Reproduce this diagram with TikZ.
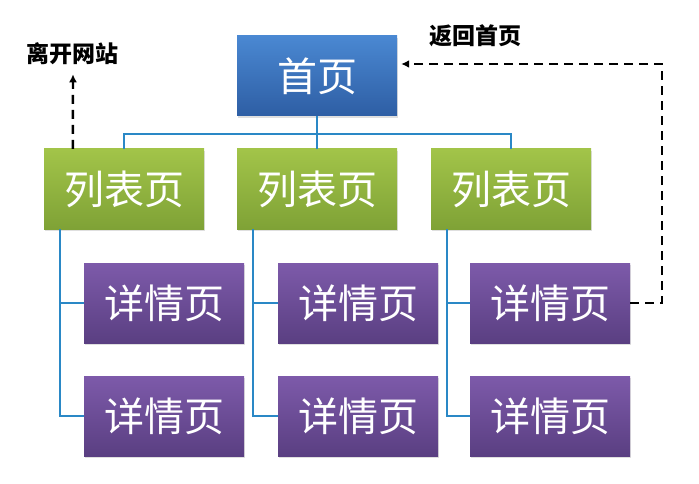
\documentclass[tikz,border=0pt]{standalone}
\usepackage{fontspec}
\newfontfamily\cjk{Noto Sans CJK SC}
\usepackage{tikz}
\usetikzlibrary{shadows, arrows.meta, positioning}

\definecolor{homeTop}{HTML}{4A88D2}
\definecolor{homeBot}{HTML}{2E5EA4}
\definecolor{listTop}{HTML}{A2C449}
\definecolor{listBot}{HTML}{7FA236}
\definecolor{detailTop}{HTML}{7D5AAA}
\definecolor{detailBot}{HTML}{5A3F82}
\definecolor{treeBlue}{HTML}{2A88C6}

\begin{document}
\begin{tikzpicture}[
    x=1pt, y=-1pt,
    page/.style={rectangle, minimum width=160pt, minimum height=80pt, inner sep=0pt,
        text=white, font=\cjk\fontsize{40}{44}\selectfont,
        drop shadow={opacity=0.25, shadow xshift=1pt, shadow yshift=-2pt}},
    home/.style={page, top color=homeTop, bottom color=homeBot},
    listpage/.style={page, top color=listTop, bottom color=listBot},
    detail/.style={page, top color=detailTop, bottom color=detailBot},
    tree/.style={draw=treeBlue, line width=2.6pt},
    jump/.style={line width=2.4pt, dash pattern=on 9pt off 6pt, -{Latex[length=8pt,width=8pt]}},
    note/.style={font=\cjk\bfseries\fontsize{23}{26}\selectfont, inner sep=1pt}
]
\useasboundingbox (0,0) rectangle (699,484);

\node[home] (index) at (317,76) {首页};

\node[listpage] (list1) at (124,189) {列表页};
\node[listpage] (list2) at (317,189) {列表页};
\node[listpage] (list3) at (511,189) {列表页};

\foreach \c/\x in {1/164, 2/358, 3/550} {
    \node[detail] (detail\c1) at (\x,303) {详情页};
    \node[detail] (detail\c2) at (\x,416) {详情页};
}

% home to lists
\draw[tree] (index.south) -- ++(0,18) coordinate (bus);
\draw[tree] (bus) -| (list1.north);
\draw[tree] (bus) -| (list3.north);
\draw[tree] (bus) -- (list2.north);

% lists to details
\foreach \c in {1,2,3} {
    \draw[tree] ([xshift=16pt]list\c.south west) |- (detail\c1.west);
    \draw[tree] ([xshift=16pt]list\c.south west) |- (detail\c2.west);
}

% leave and back
\node[note] (leave) at (73,54) {离开网站};
\node[note] (back) at (475,36) {返回首页};
\draw[jump] ([xshift=29pt]list1.north west) -- ([yshift=-8pt]leave.south);
\draw[jump, shorten >=4pt] (detail31.east) -- ++(32,0) |- ([yshift=12pt]index.east);
\end{tikzpicture}
\end{document}
